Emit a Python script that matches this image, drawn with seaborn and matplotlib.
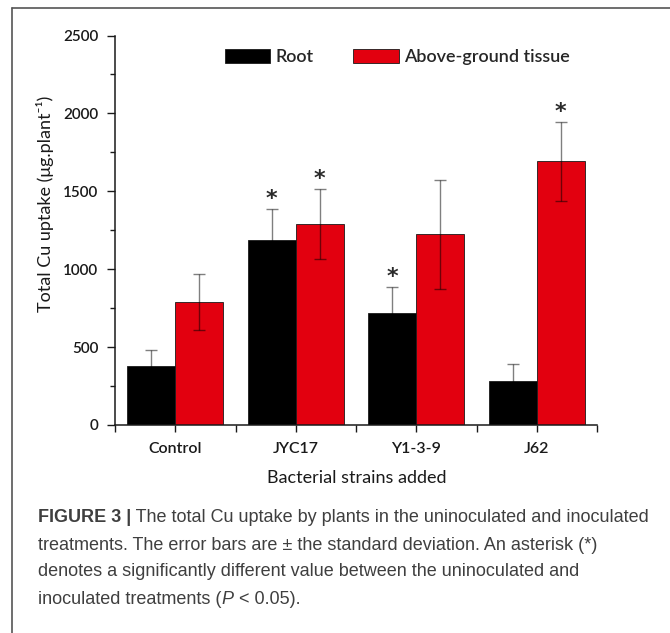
import matplotlib
matplotlib.use("Agg")
import matplotlib.pyplot as plt
import seaborn as sns
import pandas as pd
from matplotlib.lines import Line2D
from matplotlib.ticker import MultipleLocator, FixedLocator

# ---- data ----
strains = ["Control", "JYC17", "Y1-3-9", "J62"]
tissues = ["Root", "Above-ground tissue"]
root_mean = [380, 1190, 722, 280]
root_sd = [100, 195, 165, 110]
above_mean = [790, 1290, 1225, 1692]
above_sd = [182, 225, 350, 255]
root_sig = [False, True, True, False]
above_sig = [False, True, False, True]
yticks = [0, 500, 1000, 1500, 2000, 2500]
palette = {"Root": "#000000", "Above-ground tissue": "#E2000F"}

sns.set_theme(style="ticks")
plt.rcParams["font.family"] = ["Lato", "DejaVu Sans"]
plt.rcParams["font.weight"] = "semibold"

df = pd.DataFrame({
    "strain": strains * 2,
    "tissue": ["Root"] * len(strains) + ["Above-ground tissue"] * len(strains),
    "mean": root_mean + above_mean,
    "sd": root_sd + above_sd,
    "sig": root_sig + above_sig,
})

W, H = 670, 633
fig = plt.figure(figsize=(W / 100, H / 100), dpi=100)
ax = fig.add_axes([115 / W, 1 - 425 / H, (597 - 115) / W, (425 - 35.5) / H])

sns.barplot(data=df, x="strain", y="mean", hue="tissue", order=strains,
            hue_order=tissues, palette=palette, errorbar=None, width=0.8,
            saturation=1, edgecolor="#1a1a1a", linewidth=0.6, ax=ax)

# error bars & asterisks positioned from the drawn bars
for container, tissue in zip(ax.containers, tissues):
    sub = df[df["tissue"] == tissue].set_index("strain")
    for bar in container:
        xc = bar.get_x() + bar.get_width() / 2
        idx = int(round(xc))
        row = sub.loc[strains[idx]]
        ax.errorbar(xc, row["mean"], yerr=row["sd"], fmt="none",
                    ecolor=(0, 0, 0, 0.5), elinewidth=1.0, capsize=4, capthick=1.0,
                    zorder=3)
        if row["sig"]:
            ax.annotate("*", (xc, row["mean"] + row["sd"]), xytext=(0, 7),
                        textcoords="offset points", ha="center", va="center",
                        fontsize=16, color="#2a2a2a", family="DejaVu Sans")

ax.set_xlim(-0.5, len(strains) - 0.5)
ax.set_ylim(0, 2500)
ax.set_yticks(yticks)
ax.yaxis.set_minor_locator(MultipleLocator(250))
ax.xaxis.set_minor_locator(FixedLocator([i - 0.5 for i in range(len(strains) + 1)]))
sns.despine(ax=ax)
for s in ("left", "bottom"):
    ax.spines[s].set_linewidth(1.1)
    ax.spines[s].set_color("#1a1a1a")
ax.tick_params(axis="y", which="major", length=6, width=1.0, pad=6,
               labelsize=11, colors="#1a1a1a")
ax.tick_params(axis="y", which="minor", length=3.5, width=1.0, colors="#1a1a1a", left=True)
ax.tick_params(axis="x", which="both", length=5, width=1.0, colors="#1a1a1a", bottom=True)
ax.tick_params(axis="x", which="major", pad=7, labelsize=11.5)

ax.set_xlabel("Bacterial strains added", fontsize=13, va="center", color="#1a1a1a")
ax.xaxis.set_label_coords((357 - 115) / 482, (425 - 478) / 389.5)
ax.set_ylabel("Total Cu uptake (μg.plant⁻¹)", fontsize=13, va="center", color="#1a1a1a")
ax.yaxis.set_label_coords((45 - 115) / 482, (425 - 204) / 389.5)

handles, labels = ax.get_legend_handles_labels()
ax.get_legend().remove()
fig.legend(handles, labels, loc="center left", bbox_to_anchor=(225 / W, 1 - 57 / H),
           ncol=2, frameon=False, fontsize=13, handlelength=2.5, handleheight=0.85,
           handletextpad=0.3, columnspacing=2.2, borderpad=0, borderaxespad=0)

# frame of the figure panel
fig.add_artist(Line2D([12 / W, 12 / W], [0, 1 - 8 / H], transform=fig.transFigure,
                      color="#555555", lw=1.2))
fig.add_artist(Line2D([12 / W, 1], [1 - 8 / H, 1 - 8 / H], transform=fig.transFigure,
                      color="#555555", lw=1.2))

# caption
cap_kw = dict(fontsize=13, color="#3f3f3f", family=["Liberation Sans", "DejaVu Sans"],
              va="center", fontweight="normal")
t1 = fig.text(38 / W, 1 - 517 / H, "FIGURE 3 |", **{**cap_kw, "fontweight": "bold"})
ax.annotate(" The total Cu uptake by plants in the uninoculated and inoculated",
            xy=(1, 0.5), xycoords=t1, ha="left", **cap_kw)
fig.text(38 / W, 1 - 545 / H,
         "treatments. The error bars are ± the standard deviation. An asterisk (*)",
         **cap_kw)
fig.text(38 / W, 1 - 572 / H,
         "denotes a significantly different value between the uninoculated and",
         **cap_kw)
t4 = fig.text(38 / W, 1 - 600 / H, "inoculated treatments (", **cap_kw)
t5 = ax.annotate("P", xy=(1, 0.5), xycoords=t4, ha="left",
                 **{**cap_kw, "style": "italic"})
ax.annotate(" < 0.05).", xy=(1, 0.5), xycoords=t5, ha="left", **cap_kw)

fig.savefig("out.png", dpi=100)
